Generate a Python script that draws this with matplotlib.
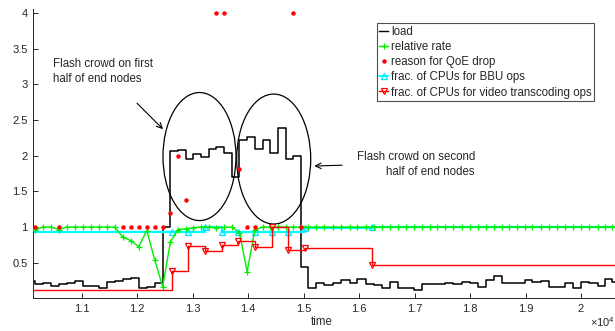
import numpy as np
import matplotlib.pyplot as plt
from matplotlib.patches import Ellipse
from matplotlib.lines import Line2D

plt.rcParams['font.family'] = ['Liberation Sans', 'DejaVu Sans']
plt.rcParams['mathtext.fontset'] = 'custom'
plt.rcParams['mathtext.rm'] = 'Liberation Sans'
plt.rcParams['mathtext.it'] = 'Liberation Sans'

# sample times shared by load and relative rate
t = [10014, 10158, 10302, 10446, 10590, 10734, 10878, 11021, 11165, 11309,
     11453, 11597, 11741, 11885, 12029, 12173, 12317, 12460, 12598, 12737,
     12875, 13014, 13152, 13290, 13429, 13567, 13706, 13844, 13982, 14121,
     14260, 14399, 14538, 14677, 14816, 14955, 15083, 15221, 15371, 15522,
     15672, 15835, 15967, 16118, 16268, 16406, 16556, 16695, 16845, 16995,
     17134, 17272, 17411, 17549, 17698, 17850, 18000, 18139, 18283, 18432,
     18571, 18711, 18852, 18992, 19124, 19275, 19425, 19575, 19713, 19863,
     20002, 20152, 20303, 20435, 20567, 20700]

load = [0.248, 0.197, 0.22, 0.178, 0.20, 0.21, 0.24, 0.178, 0.174, 0.14,
        0.235, 0.244, 0.267, 0.28, 0.14, 0.164, 0.21, 1.0, 2.07, 2.08,
        1.95, 2.02, 1.975, 2.09, 2.125, 2.03, 1.70, 2.22, 2.265, 2.09,
        2.22, 2.03, 2.38, 1.95, 1.99, 0.435, 0.15, 0.22, 0.19, 0.22,
        0.258, 0.21, 0.276, 0.20, 0.19, 0.14, 0.234, 0.14, 0.15, 0.118,
        0.197, 0.197, 0.20, 0.21, 0.197, 0.235, 0.21, 0.164, 0.258, 0.314,
        0.21, 0.21, 0.21, 0.258, 0.235, 0.245, 0.155, 0.164, 0.21, 0.14,
        0.235, 0.22, 0.174, 0.27, 0.235, 0.235]

rate = [1.0, 0.958, 1.0, 1.0, 0.965, 1.0, 1.0, 1.0, 1.0, 1.0,
        1.0, 1.0, 0.856, 0.81, 0.725, 0.95, 0.538, 0.164, 0.79, 0.965,
        0.975, 0.99, 1.0, 1.0, 0.99, 0.995, 1.0, 0.92, 0.374, 0.96,
        1.0, 1.0, 1.0, 1.0, 1.0, 1.0, 1.0, 1.0, 1.0, 1.0,
        1.0, 1.0, 1.0, 1.0, 1.0, 1.0, 1.0, 1.0, 1.0, 1.0,
        1.0, 1.0, 1.0, 1.0, 1.0, 1.0, 1.0, 1.0, 1.0, 1.0,
        1.0, 1.0, 1.0, 1.0, 1.0, 1.0, 1.0, 1.0, 1.0, 1.0,
        1.0, 1.0, 1.0, 1.0, 1.0, 1.0]

# reason for QoE drop
qoe_t = [10158, 10590, 11741, 11885, 12029, 12173, 12317, 12460, 12598,
         12737, 12875, 13429, 13567, 13844, 13982, 14121, 14816, 14955]
qoe_v = [1, 1, 1, 1, 1, 1, 1, 1, 1.2, 2.0, 1.38, 4, 4, 1.81, 1, 1, 4, 1]

# CPU fractions (change points)
cpu_t = [10014, 12622, 12921, 13222, 13524, 13823, 14124, 14425, 14724,
         15025, 16227, 20700]
bbu = [0.925, 0.93, 0.93, 1.0, 0.93, 0.93, 0.935, 0.935, 0.93, 0.985, 1.0, 1.0]
video = [0.118, 0.38, 0.734, 0.666, 0.745, 0.81, 0.714, 1.0, 0.68, 0.71,
         0.465, 0.465]

dark = '0.15'

fig = plt.figure(figsize=(6.15, 3.31), dpi=100)
ax = fig.add_axes([33 / 615, 33 / 331, 1 - 33 / 615, 288.7 / 331])

ax.step(t, load, where='post', color='k', lw=1.1, zorder=2)
ax.step(cpu_t, bbu, where='post', color='#00ffff', lw=1.6, zorder=2.5)
ax.plot(cpu_t[1:-1], bbu[1:-1], ls='none', marker='^', ms=4.5,
        mfc='none', mec='#00e5ff', mew=0.9, zorder=2.6)
ax.plot(t, rate, color='#00ee00', lw=1, marker='+', ms=5, mew=0.9, zorder=3)
ax.step(cpu_t, video, where='post', color='#ff0000', lw=1, zorder=3.5)
ax.plot(cpu_t[1:-1], video[1:-1], ls='none', marker='v', ms=4.5,
        mfc='none', mec='#ff0000', mew=0.9, zorder=3.6)
ax.plot(qoe_t, qoe_v, ls='none', marker='o', ms=3.2, color='#ff0000',
        mec='none', zorder=4)

# flash crowd annotations
ax.add_patch(Ellipse((13123, 1.987), 1316, 1.793, fill=False, ec='k', lw=0.9))
ax.add_patch(Ellipse((14461, 1.952), 1334, 1.82, fill=False, ec='k', lw=0.9))
ax.annotate('', xy=(12501, 2.343), xytext=(11961, 2.762),
            arrowprops=dict(arrowstyle='->', color='k', lw=0.8))
ax.annotate('', xy=(15142, 1.853), xytext=(15745, 1.867),
            arrowprops=dict(arrowstyle='->', color='k', lw=0.8))
ax.text(10483, 3.364, 'Flash crowd on first\nhalf of end nodes',
        ha='left', va='top', fontsize=8.3, color=dark, linespacing=1.3)
ax.text(18089, 2.063, 'Flash crowd on second\nhalf of end nodes',
        ha='right', va='top', fontsize=8.3, color=dark, linespacing=1.3,
        multialignment='right')

ax.set_xlim(10122, 20613)
ax.set_ylim(0.006, 4.049)
ax.set_xticks([11000, 12000, 13000, 14000, 15000, 16000, 17000, 18000,
               19000, 20000])
ax.set_xticklabels(['1.1', '1.2', '1.3', '1.4', '1.5', '1.6', '1.7', '1.8',
                    '1.9', '2'])
ax.set_yticks([0.5, 1, 1.5, 2, 2.5, 3, 3.5, 4])
ax.set_yticklabels(['0.5', '1', '1.5', '2', '2.5', '3', '3.5', '4'])
ax.tick_params(direction='in', length=3.5, width=0.7, color=dark,
               labelcolor=dark, labelsize=8, pad=4)
for side in ['top', 'right']:
    ax.spines[side].set_visible(False)
for side in ['left', 'bottom']:
    ax.spines[side].set_color(dark)
    ax.spines[side].set_linewidth(0.7)

ax.set_xlabel('time', fontsize=8.3, color=dark)
ax.xaxis.set_label_coords(0.4966, -0.064)
fig.text(1.0, 1 - 327 / 331, r'$\times10^{4}$', ha='right', va='baseline',
         fontsize=8, color=dark)

handles = [
    Line2D([], [], color='k', lw=1),
    Line2D([], [], color='#00ee00', lw=1, marker='+', ms=5, mew=0.9),
    Line2D([], [], ls='none', marker='o', ms=3.2, color='#ff0000', mec='none'),
    Line2D([], [], color='#00ffff', lw=1.3, marker='^', ms=4.5, mfc='none',
           mec='#00e5ff', mew=0.9),
    Line2D([], [], color='#ff0000', lw=1, marker='v', ms=4.5, mfc='none',
           mew=0.9),
]
labels = ['load', 'relative rate', 'reason for QoE drop',
          'frac. of CPUs for BBU ops',
          'frac. of CPUs for video transcoding ops']
leg = ax.legend(handles, labels, loc='upper right',
                bbox_to_anchor=(594.3 / 615, 1 - 23.3 / 331),
                bbox_transform=fig.transFigure, borderaxespad=0,
                fancybox=False, fontsize=8.3, handlelength=0.8,
                handletextpad=0.25, labelspacing=0.28, borderpad=0.2)
leg.get_frame().set_edgecolor(dark)
leg.get_frame().set_linewidth(0.8)
for txt in leg.get_texts():
    txt.set_color(dark)

fig.savefig('out.png', dpi=100)
